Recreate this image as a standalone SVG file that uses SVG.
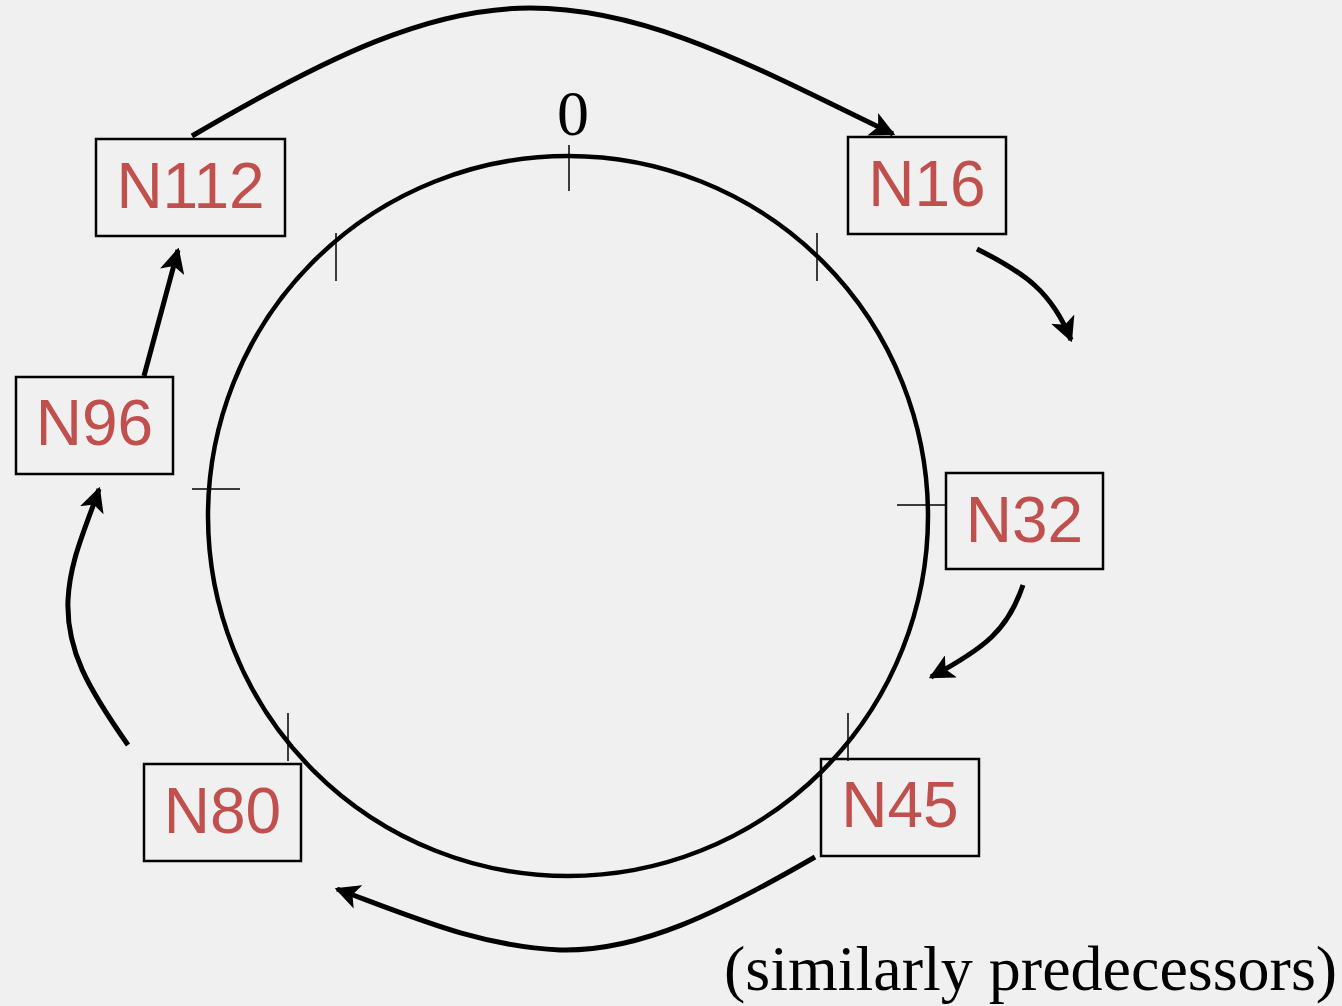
<svg xmlns="http://www.w3.org/2000/svg" width="1342" height="1006" viewBox="0 0 1342 1006">
<style>
.box{fill:none;stroke:#000;stroke-width:2.5}
.lbl{font-family:"Liberation Sans",Arial,sans-serif;font-size:64px;fill:#C0504D;text-anchor:middle}
.ser{font-family:"Liberation Serif","Times New Roman",serif;font-size:64px;fill:#000}
.tick{stroke:#000;stroke-width:1.5}
.arr{fill:none;stroke:#000;stroke-width:5;marker-end:url(#ah)}
</style>
<defs>
<marker id="ah" markerWidth="5" markerHeight="5" refX="4.5" refY="2.5" orient="auto" markerUnits="strokeWidth">
<path d="M0,0 L5,2.5 L0,5 L1.2,2.5 Z" fill="#000"/>
</marker>
</defs>
<rect width="1342" height="1006" fill="#f0f0f0"/>
<g id="ring">
<circle cx="568" cy="516" r="360" fill="none" stroke="#000" stroke-width="4.5"/>
<line class="tick" x1="569" y1="145" x2="569" y2="191"/>
<line class="tick" x1="336" y1="233" x2="336" y2="281"/>
<line class="tick" x1="817" y1="233" x2="817" y2="281"/>
<line class="tick" x1="192" y1="489" x2="240" y2="489"/>
<line class="tick" x1="897" y1="505" x2="945" y2="505"/>
<line class="tick" x1="288" y1="713" x2="288" y2="761"/>
<line class="tick" x1="848" y1="713" x2="848" y2="761"/>
<text class="ser" x="573" y="135" text-anchor="middle">0</text>
</g>
<g id="connectors">
<path class="arr" d="M192,136 C330,55 430,8 530,8 C650,8 760,70 893,134"/>
<path class="arr" d="M977,249 C1025,273 1052,292 1071,340"/>
<path class="arr" d="M1023,585 C1008,630 985,648 931,677"/>
<path class="arr" d="M815,857 C720,912 640,952 560,950 C480,946 420,920 337,889"/>
<path class="arr" d="M128,745 C88,688 66,650 68,600 C70,560 85,530 99,489"/>
<path class="arr" d="M144,376 L178,250"/>
</g>
<g id="N112"><rect class="box" x="96" y="139" width="189" height="97"/><text class="lbl" x="190.5" y="208">N112</text></g>
<g id="N16"><rect class="box" x="848" y="137" width="158" height="97"/><text class="lbl" x="927" y="206">N16</text></g>
<g id="N32"><rect class="box" x="946" y="473" width="157" height="96"/><text class="lbl" x="1024.5" y="542">N32</text></g>
<g id="N45"><rect class="box" x="821" y="759" width="158" height="97"/><text class="lbl" x="900" y="827">N45</text></g>
<g id="N80"><rect class="box" x="144" y="764" width="157" height="97"/><text class="lbl" x="222.5" y="833">N80</text></g>
<g id="N96"><rect class="box" x="16" y="377" width="157" height="97"/><text class="lbl" x="94.5" y="445">N96</text></g>
<text class="ser" x="724" y="990">(similarly predecessors)</text>
</svg>
